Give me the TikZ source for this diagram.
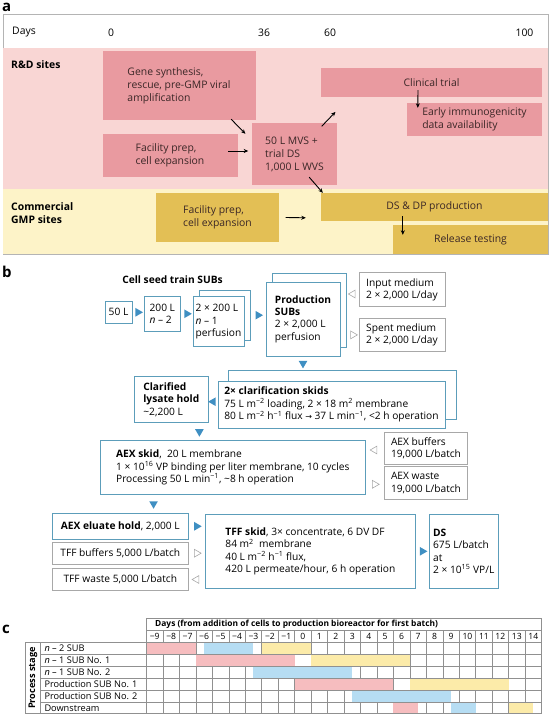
\documentclass[tikz,border=0pt]{standalone}
\usepackage{fontspec}
\setmainfont{Open Sans}
\newfontfamily\arrowfont{DejaVu Sans}
\usetikzlibrary{positioning,calc,shapes.geometric,backgrounds,arrows.meta}

\definecolor{framegray}{HTML}{B4B4B4}
\definecolor{bandpink}{HTML}{F9D6D4}
\definecolor{boxpink}{HTML}{E99AA0}
\definecolor{bandyel}{HTML}{FDF3C8}
\definecolor{boxyel}{HTML}{E3BF55}
\definecolor{textdark}{HTML}{3A2626}
\definecolor{skidblue}{HTML}{5C9DBA}
\definecolor{tipblue}{HTML}{3F8FC2}
\definecolor{sidegray}{HTML}{A8A8A8}
\definecolor{cpink}{HTML}{F6BDBF}
\definecolor{cblue}{HTML}{B6DDF3}
\definecolor{cyel}{HTML}{FCEBA9}
\definecolor{gridgray}{HTML}{909090}

\newcommand\afont{\fontsize{10.4}{13}\selectfont}
\newcommand\bfont{\fontsize{10.2}{12.4}\selectfont}
\newcommand\cfont{\fontsize{9.2}{11}\selectfont}
\newcommand\sps[1]{\textsuperscript{#1}}

\begin{document}
\begin{tikzpicture}[x=1pt,y=-1pt,>={Stealth[length=4.5pt,width=4pt]},
  pbox/.style={fill=boxpink,inner sep=0pt,align=left,text=textdark,font=\afont},
  ybox/.style={fill=boxyel,inner sep=0pt,align=left,text=textdark,font=\afont},
  arr/.style={->,line width=0.9pt,black},
  skid/.style={draw=skidblue,line width=0.8pt,fill=white,inner sep=0pt,align=left,font=\bfont},
  side/.style={draw=sidegray,line width=0.6pt,fill=white,inner sep=0pt,align=left,font=\bfont},
  tipf/.style={regular polygon,regular polygon sides=3,shape border rotate=-90,
    fill=tipblue,inner sep=0pt,minimum size=10pt,sloped,allow upside down},
  tipo/.style={tipf,fill=white,draw=sidegray,line width=0.6pt,minimum size=9pt},
  panel/.style={font=\bfseries\fontsize{15}{15}\selectfont,anchor=base west,inner sep=0pt},
  grid line/.style={draw=gridgray,line width=0.5pt}]

  \useasboundingbox (0,0) rectangle (554,714);

  % a: timeline
  \node[panel] (la) at (2,12) {a};
  \draw[framegray,line width=0.6pt,fill=white] (3,14.5) rectangle (548,254);
  \fill[bandpink] (3.3,48) rectangle (547.7,189);
  \fill[bandyel] (3.3,189) rectangle (547.7,253.7);

  \node[font=\afont,anchor=west,inner sep=0pt] (days) at (12,32.5) {Days};
  \node[font=\afont] (d0) at (111,32.5) {0};
  \node[font=\afont] (d36) at (264,32.5) {36};
  \node[font=\afont] (d60) at (330,32.5) {60};
  \node[font=\afont] (d100) at (524.5,32.5) {100};

  \node[font=\bfseries\afont,anchor=west,inner sep=0pt] (rnd) at (11,64.5) {R\&D sites};
  \node[font=\bfseries\afont,anchor=west,inner sep=0pt,align=left] (gmp) at (11,213) {Commercial\\GMP sites};

  \node[pbox,minimum width=153pt,minimum height=69.5pt] (gene) at (179,85.3) {Gene synthesis,\\rescue, pre-GMP viral\\amplification};
  \node[pbox,minimum width=135pt,minimum height=42.6pt] (facp) at (170,155.3) {Facility prep,\\cell expansion};
  \node[pbox,minimum width=85pt,minimum height=62pt] (mvs) at (294.5,154) {50 L MVS +\\trial DS\\1,000 L WVS};
  \node[pbox,minimum width=221pt,minimum height=29pt] (clin) at (431.5,82.5) {Clinical trial};
  \node[pbox,minimum width=135pt,minimum height=33pt] (early) at (474.5,119.5) {Early immunogenicity\\data availability};
  \node[ybox,minimum width=123pt,minimum height=49pt] (facy) at (217.5,217.5) {Facility prep,\\cell expansion};
  \node[ybox,minimum width=227pt,minimum height=28pt] (dsdp) at (434.5,207) {DS \& DP production};
  \node[ybox,minimum width=155pt,minimum height=29pt] (rel) at (470.5,239.5) {Release testing};

  \draw[arr] ($(gene.south east)+(-24.5,-1)$) -- ($(mvs.north west)+(-6.4,11)$);
  \draw[arr] ($(facp.east)+(-9.5,-4.3)$) -- ($(mvs.west)+(-3.6,-3)$);
  \draw[arr] ($(mvs.north east)+(-15.5,3.5)$) -- ($(clin.south west)+(14.7,14.7)$);
  \draw[arr] ($(clin.south)+(-13.5,-7)$) -- ($(early.north west)+(11,5)$);
  \draw[arr] ($(mvs.south east)+(-28,-8)$) -- ($(dsdp.north west)+(2,0)$);
  \draw[arr] ($(facy.east)+(6.5,0)$) -- ($(dsdp.south west)+(-15,-3.4)$);
  \draw[arr] ($(dsdp.south west)+(82,-5)$) -- ($(rel.north west)+(10,10)$);

  % b: process train
  \node[panel] (lb) at (2,277) {b};
  \node[font=\bfseries\bfont] (seedttl) at (172.5,280) {Cell seed train SUBs};

  \node[skid,minimum width=27pt,minimum height=21.3pt] (fifty) at (118.5,312.3) {50 L};
  \node[skid,minimum width=36.7pt,minimum height=35.7pt] (twoh) at (162.3,313.8) {200 L\\\textit{n} – 2};
  \node[skid,minimum width=51pt,minimum height=50pt] (twoh2) at (218.5,321.7) {2 × 200 L\\\textit{n} – 1\\perfusion};
  \node[skid,minimum width=74pt,minimum height=74pt] (prod) at (303,319) {\textbf{Production}\\\textbf{SUBs}\\2 × 2,000 L\\perfusion};
  \node[side,minimum width=86pt,minimum height=34pt] (inmed) at (402,289.7) {Input medium\\2 × 2,000 L/day};
  \node[side,minimum width=86pt,minimum height=33.7pt] (spmed) at (402,334.9) {Spent medium\\2 × 2,000 L/day};

  \node[skid,minimum width=227pt,minimum height=47.3pt] (clar) at (331.5,404.7) {\textbf{2× clarification skids}\\75 L m\sps{−2} loading, 2 × 18 m\sps{2} membrane\\80 L m\sps{−2} h\sps{−1} flux {\arrowfont\fontsize{8}{8}\selectfont →} 37 L min\sps{−1}, <2 h operation};
  \node[skid,minimum width=74pt,minimum height=46pt] (lys) at (171.3,399.7) {\textbf{Clarified}\\\textbf{lysate hold}\\\textasciitilde2,200 L};

  \node[skid,minimum width=264.3pt,minimum height=53.6pt] (aex) at (232.8,467.5) {\textbf{AEX skid}, \ 20 L membrane\\1 × 10\sps{16} VP binding per liter membrane, 10 cycles\\Processing 50 L min\sps{−1}, \textasciitilde8 h operation};
  \node[side,minimum width=83.4pt,minimum height=32pt] (aexbuf) at (426,448.3) {AEX buffers\\19,000 L/batch};
  \node[side,minimum width=83.4pt,minimum height=32.3pt] (aexw) at (426,482.8) {AEX waste\\19,000 L/batch};

  \node[skid,line width=1pt,minimum width=136pt,minimum height=26pt] (elu) at (120.3,526.3) {\textbf{AEX eluate hold}, 2,000 L};
  \node[side,minimum width=136pt,minimum height=21.7pt] (tffb) at (120.3,553.2) {TFF buffers 5,000 L/batch};
  \node[side,minimum width=136pt,minimum height=22.4pt] (tffw) at (120.3,579.5) {TFF waste 5,000 L/batch};
  \node[skid,minimum width=210.7pt,minimum height=74pt] (tff) at (310.4,551.3) {\textbf{TFF skid}, 3× concentrate, 6 DV DF\\84 m\sps{2} \ membrane\\40 L m\sps{−2} h\sps{−1} flux,\\420 L permeate/hour, 6 h operation};
  \node[skid,minimum width=69.3pt,minimum height=74pt] (ds) at (463.7,551.3) {\textbf{DS}\\675 L/batch\\at\\2 × 10\sps{15} VP/L};

  \begin{scope}[on background layer]
    \node[skid,minimum width=51pt,minimum height=50pt] (twohb) at ($(twoh2)+(6,-6.5)$) {};
    \node[skid,minimum width=74pt,minimum height=74pt] (prodb) at ($(prod)+(6.7,-8.7)$) {};
    \node[skid,minimum width=228.7pt,minimum height=48.3pt] (clarb) at ($(clar)+(10.8,-9.8)$) {};
  \end{scope}

  \coordinate (c1) at ($(inmed.west)+(0,4.3)$);
  \coordinate (c2) at ($(clar.west)+(0,-3)$);
  \coordinate (c3) at ($(lys.south east)+(-9.3,0)$);
  \coordinate (c4) at ($(aexbuf.west)+(0,1.7)$);
  \coordinate (c5) at ($(aexw.west)+(0,1.5)$);
  \coordinate (c6) at ($(aex.south west)+(53.3,0)$);
  \path (fifty.east) -- node[tipf]{} (fifty.east -| twoh.west);
  \path (twoh.east) -- node[tipf]{} (twoh.east -| twoh2.west);
  \path (twohb.east) -- node[tipf]{} (twohb.east -| prod.west);
  \path (c1) -- node[tipo]{} (c1 -| prodb.east);
  \path (spmed.west -| prodb.east) -- node[tipo]{} (spmed.west);
  \path (prod.south) -- node[tipf]{} (prod.south |- clarb.north);
  \path (c2) -- node[tipf]{} (c2 -| lys.east);
  \path (c3) -- node[tipf]{} (c3 |- aex.north);
  \path (c4) -- node[tipo]{} (c4 -| aex.east);
  \path (c5 -| aex.east) -- node[tipo]{} (c5);
  \path (c6) -- node[tipf]{} (c6 |- elu.north);
  \path (elu.east) -- node[tipf]{} (elu.east -| tff.west);
  \path (tffb.east) -- node[tipo]{} (tffb.east -| tff.west);
  \path (tffw.east -| tff.west) -- node[tipo]{} (tffw.east);
  \path (tff.east) -- node[tipf]{} (tff.east -| ds.west);

  % c: schedule grid
  \node[panel] (lc) at (2,633) {c};
  \foreach \i in {0,...,24}
    \draw[grid line] ({146.5+\i*16.46},630) -- ({146.5+\i*16.46},713.7);
  \foreach \r/\a/\b/\cc in {0/0/3/cpink,0/3.5/6.5/cblue,0/7/10/cyel,
      1/3/9/cpink,1/10/16/cyel,2/6.5/12.5/cblue,3/9/15/cpink,3/16/22/cyel,
      4/12.5/18.5/cblue,5/15/16.5/cpink,5/18.5/20/cblue,5/22/23.5/cyel}
    \fill[\cc] ({146.5+\a*16.46},{642+\r*12}) rectangle ({146.5+\b*16.46},{654+\r*12});
  \draw[grid line] (146.5,630) -- (146.5,618.5) -- (541.5,618.5) -- (541.5,630);
  \draw[grid line] (146.5,630) -- (541.5,630);
  \draw[grid line] (25,642) -- (541.5,642);
  \foreach \r in {1,...,5}
    \draw[grid line] (40.7,{642+\r*12}) -- (541.5,{642+\r*12});
  \draw[grid line] (25,713.7) -- (541.5,713.7);
  \draw[grid line] (25,642) -- (25,713.7);
  \draw[grid line] (40.7,642) -- (40.7,713.7);
  \draw[grid line] (146.5,642) -- (146.5,713.7);

  \node[font=\bfseries\fontsize{8.4}{10}\selectfont,anchor=west,inner sep=0pt] (cttl) at (155,624.3) {Days (from addition of cells to production bioreactor for first batch)};
  \foreach \i in {0,...,23}{
    \pgfmathtruncatemacro\dd{\i-9}
    \node[font=\fontsize{8.6}{10}\selectfont,inner sep=0pt] (n\i) at ({146.5+(\i+0.5)*16.46},636) {\ifnum\dd<0 −\number-\dd\else\dd\fi};
  }
  \foreach \r/\t in {0/{\textit{n} – 2 SUB},1/{\textit{n} – 1 SUB No. 1},2/{\textit{n} – 1 SUB No. 2},
      3/{Production SUB No. 1},4/{Production SUB No. 2},5/{Downstream}}
    \node[font=\cfont,anchor=west,inner sep=0pt] (row\r) at (44.3,{648+\r*12}) {\t};
  \node[font=\bfseries\cfont,rotate=90,inner sep=0pt] (stage) at (33,678) {Process stage};
\end{tikzpicture}
\end{document}
